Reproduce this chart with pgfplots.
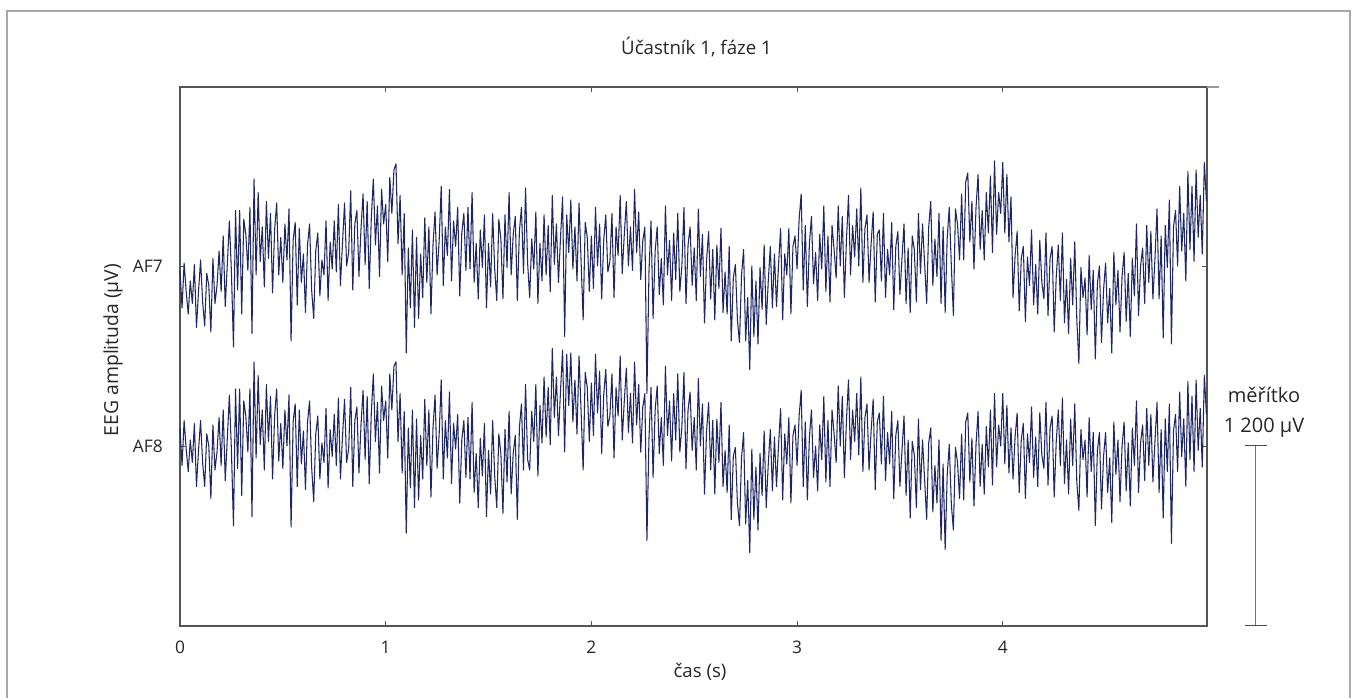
\documentclass[border=0pt]{standalone}
\usepackage{fontspec}
\setmainfont{Open Sans}
\usepackage{pgfplots}
\usepackage{pgfplotstable}
\pgfplotsset{compat=1.18}
\definecolor{trace}{RGB}{30,38,100}
\definecolor{framegray}{RGB}{168,168,168}
\definecolor{spine}{RGB}{85,85,85}

\pgfplotstableread{
t AF7 AF8
0.00 2370 1320
0.01 2120 1070
0.02 2420 1370
0.03 2230 1180
0.04 2080 1030
0.05 2300 1240
0.06 2150 1090
0.07 2410 1350
0.08 1990 930
0.09 2230 1170
0.10 2440 1370
0.11 2160 1090
0.12 2000 930
0.13 2350 1280
0.14 2270 1200
0.15 1960 850
0.16 2450 1340
0.17 2150 1040
0.18 2270 1160
0.19 2500 1390
0.20 2230 1070
0.21 2600 1440
0.22 2130 970
0.23 2410 1250
0.24 2700 1540
0.25 2360 1170
0.26 1860 670
0.27 2770 1580
0.28 2240 1050
0.29 2770 1580
0.30 2080 870
0.31 2710 1500
0.32 2610 1400
0.33 2370 1160
0.34 2790 1580
0.35 1950 730
0.36 2980 1760
0.37 2340 1120
0.38 2890 1670
0.39 2430 1210
0.40 2660 1440
0.41 2260 1040
0.42 2830 1610
0.43 2450 1230
0.44 2750 1530
0.45 2220 980
0.46 2640 1400
0.47 2820 1580
0.48 2340 1100
0.49 2590 1350
0.50 2290 1050
0.51 2680 1440
0.52 2440 1200
0.53 2780 1540
0.54 1900 660
0.55 2570 1360
0.56 2690 1480
0.57 2140 930
0.58 2650 1440
0.59 2290 1080
0.60 2480 1300
0.61 2090 910
0.62 2540 1360
0.63 2680 1500
0.64 2240 1060
0.65 2050 830
0.66 2500 1280
0.67 2620 1400
0.68 2200 980
0.69 2440 1220
0.70 2340 1090
0.71 2700 1450
0.72 2170 920
0.73 2560 1310
0.74 2380 1130
0.75 2700 1410
0.76 2360 1070
0.77 2810 1520
0.78 2270 980
0.79 2550 1260
0.80 2820 1510
0.81 2400 1090
0.82 2490 1180
0.83 2900 1590
0.84 2240 930
0.85 2680 1370
0.86 2770 1460
0.87 2330 1020
0.88 2650 1340
0.89 2880 1570
0.90 2410 1110
0.91 2830 1530
0.92 2250 950
0.93 2720 1420
0.94 2980 1680
0.95 2540 1230
0.96 2800 1490
0.97 2330 1020
0.98 2910 1600
0.99 2680 1370
1.00 2810 1500
1.01 2430 1120
1.02 2990 1680
1.03 2750 1440
1.04 3040 1730
1.05 3080 1760
1.06 2550 1230
1.07 2870 1550
1.08 2340 1020
1.09 2750 1430
1.10 1820 620
1.11 2520 1320
1.12 2120 920
1.13 2640 1440
1.14 1990 790
1.15 2590 1380
1.16 2050 840
1.17 2480 1270
1.18 2190 980
1.19 2720 1510
1.20 2290 1070
1.21 2660 1440
1.22 2080 860
1.23 2540 1320
1.24 2760 1540
1.25 2340 1050
1.26 2570 1280
1.27 2930 1640
1.28 2270 980
1.29 2660 1370
1.30 2470 1120
1.31 2910 1560
1.32 2300 950
1.33 2700 1350
1.34 2530 1180
1.35 2790 1410
1.36 2200 820
1.37 2620 1240
1.38 2750 1370
1.39 2370 990
1.40 2790 1390
1.41 2380 980
1.42 2890 1490
1.43 2290 890
1.44 2550 1150
1.45 2180 790
1.46 2640 1250
1.47 2390 1000
1.48 2740 1350
1.49 2120 730
1.50 2550 1170
1.51 2260 880
1.52 2750 1370
1.53 2380 1000
1.54 2170 790
1.55 2710 1280
1.56 2580 1150
1.57 2180 750
1.58 2740 1310
1.59 2390 960
1.60 2890 1430
1.61 2340 880
1.62 2610 1150
1.63 2730 1270
1.64 2170 710
1.65 2630 1320
1.66 2790 1480
1.67 2350 1040
1.68 2920 1610
1.69 2420 1110
1.70 2190 1040
1.71 2580 1430
1.72 2380 1230
1.73 2760 1610
1.74 2150 1000
1.75 2550 1470
1.76 2300 1220
1.77 2740 1660
1.78 2340 1260
1.79 2670 1590
1.80 2230 1210
1.81 2870 1850
1.82 2410 1390
1.83 2680 1660
1.84 2290 1270
1.85 2590 1570
1.86 2860 1840
1.87 1930 1160
1.88 2740 1810
1.89 2490 1470
1.90 2840 1820
1.91 2380 1360
1.92 2660 1640
1.93 2300 1280
1.94 2820 1800
1.95 2430 1430
1.96 2040 1040
1.97 2690 1690
1.98 2590 1590
1.99 2230 1230
2.00 2600 1620
2.01 2250 1270
2.02 2790 1810
2.03 2400 1420
2.04 2680 1700
2.05 2180 1150
2.06 2570 1540
2.07 2740 1710
2.08 2360 1330
2.09 2430 1400
2.10 2750 1680
2.11 2190 1120
2.12 2660 1590
2.13 2470 1400
2.14 2870 1800
2.15 2350 1240
2.16 2610 1500
2.17 2830 1720
2.18 2400 1290
2.19 2660 1550
2.20 2370 1220
2.21 2910 1760
2.22 2490 1340
2.23 2760 1610
2.24 2310 1160
2.25 2570 1460
2.26 2660 1550
2.27 1550 570
2.28 2360 1250
2.29 2700 1590
2.30 2050 990
2.31 2500 1440
2.32 2660 1600
2.33 2210 1150
2.34 2450 1390
2.35 2140 1070
2.36 2800 1730
2.37 2340 1270
2.38 2570 1500
2.39 2170 1100
2.40 2620 1550
2.41 2310 1240
2.42 2750 1680
2.43 2230 1160
2.44 2400 1330
2.45 2790 1690
2.46 2150 1050
2.47 2540 1440
2.48 2660 1560
2.49 2270 1170
2.50 2520 1390
2.51 2170 1040
2.52 2780 1650
2.53 2330 1200
2.54 2610 1480
2.55 2020 880
2.56 2440 1300
2.57 2630 1490
2.58 2180 1040
2.59 2510 1370
2.60 2040 880
2.61 2540 1380
2.62 2250 1090
2.63 2650 1490
2.64 2090 930
2.65 2360 1170
2.66 2080 890
2.67 2530 1340
2.68 1900 710
2.69 2320 1130
2.70 2410 1190
2.71 2040 820
2.72 1890 670
2.73 2340 1120
2.74 2510 1290
2.75 1900 680
2.76 2190 970
2.77 1710 490
2.78 2400 1180
2.79 1930 710
2.80 2300 1060
2.81 1880 640
2.82 2390 1150
2.83 2110 870
2.84 2540 1300
2.85 2010 790
2.86 2300 1080
2.87 2530 1310
2.88 2120 900
2.89 2480 1260
2.90 2130 930
2.91 2410 1210
2.92 2650 1450
2.93 2040 840
2.94 2480 1280
2.95 2340 1080
2.96 2650 1390
2.97 2080 820
2.98 2530 1270
2.99 2600 1340
3.00 2380 1070
3.01 2710 1400
3.02 2880 1570
3.03 2240 930
3.04 2670 1360
3.05 2130 840
3.06 2550 1260
3.07 2730 1440
3.08 2280 990
3.09 2490 1200
3.10 2170 900
3.11 2610 1340
3.12 2380 1110
3.13 2800 1530
3.14 2230 960
3.15 2600 1370
3.16 2160 930
3.17 2670 1440
3.18 2510 1280
3.19 2320 1090
3.20 2800 1600
3.21 2400 1200
3.22 2730 1530
3.23 2190 990
3.24 2570 1370
3.25 2870 1640
3.26 2340 1110
3.27 2670 1440
3.28 2460 1230
3.29 2780 1550
3.30 2400 1140
3.31 2920 1660
3.32 2290 1030
3.33 2650 1390
3.34 2740 1480
3.35 2290 1040
3.36 2550 1300
3.37 2760 1510
3.38 2160 910
3.39 2610 1360
3.40 2640 1420
3.41 2300 1080
3.42 2750 1530
3.43 2190 970
3.44 2510 1290
3.45 2340 1080
3.46 2690 1430
3.47 2110 850
3.48 2530 1270
3.49 2630 1370
3.50 2210 930
3.51 2450 1170
3.52 2680 1400
3.53 2150 870
3.54 2520 1240
3.55 2090 720
3.56 2600 1230
3.57 2510 1140
3.58 2160 790
3.59 2750 1380
3.60 2350 910
3.61 2680 1240
3.62 2420 980
3.63 2150 710
3.64 2660 1220
3.65 2830 1320
3.66 2270 760
3.67 2580 1070
3.68 2330 820
3.69 2750 1240
3.70 2150 570
3.71 2660 1080
3.72 2090 510
3.73 2590 1010
3.74 2790 1210
3.75 2400 810
3.76 2070 640
3.77 2780 1190
3.78 2680 1090
3.79 2440 850
3.80 2880 1280
3.81 2440 840
3.82 2960 1360
3.83 3020 1420
3.84 2560 960
3.85 2830 1250
3.86 2380 800
3.87 2790 1210
3.88 3010 1430
3.89 2510 930
3.90 2770 1210
3.91 2440 880
3.92 2890 1330
3.93 2620 1060
3.94 3000 1440
3.95 2490 940
3.96 3100 1550
3.97 2610 1060
3.98 2890 1340
3.99 2750 1200
4.00 3090 1550
4.01 2620 1080
4.02 3010 1470
4.03 2560 1020
4.04 2860 1320
4.05 2190 980
4.06 2470 1260
4.07 2630 1420
4.08 2100 890
4.09 2450 1240
4.10 2530 1350
4.11 2030 850
4.12 2460 1280
4.13 2270 1090
4.14 2640 1460
4.15 2140 990
4.16 2410 1260
4.17 2080 930
4.18 2570 1420
4.19 2290 1140
4.20 2180 1050
4.21 2620 1490
4.22 2070 940
4.23 2450 1320
4.24 2530 1400
4.25 1960 860
4.26 2330 1230
4.27 2540 1440
4.28 2170 1070
4.29 2620 1520
4.30 2020 950
4.31 2310 1240
4.32 1950 880
4.33 2450 1380
4.34 2140 1070
4.35 2560 1480
4.36 2040 960
4.37 1750 770
4.38 2390 1310
4.39 2190 1110
4.40 2320 1240
4.41 1940 860
4.42 2470 1390
4.43 2110 1030
4.44 2370 1290
4.45 1780 670
4.46 2280 1170
4.47 2400 1290
4.48 1890 780
4.49 2240 1130
4.50 2420 1290
4.51 2020 890
4.52 2250 1120
4.53 1820 690
4.54 2490 1360
4.55 2140 1010
4.56 2370 1240
4.57 1960 830
4.58 2330 1200
4.59 2490 1360
4.60 2030 900
4.61 2350 1220
4.62 1930 800
4.63 2450 1320
4.64 2200 1070
4.65 2680 1500
4.66 2070 890
4.67 2400 1220
4.68 2520 1340
4.69 2150 970
4.70 2670 1450
4.71 2290 1070
4.72 2630 1410
4.73 2180 960
4.74 2450 1230
4.75 2780 1490
4.76 2180 890
4.77 2600 1310
4.78 1920 720
4.79 2670 1380
4.80 2390 1030
4.81 2840 1480
4.82 1880 550
4.83 2660 1300
4.84 2770 1410
4.85 2400 1030
4.86 2930 1560
4.87 2500 1130
4.88 2750 1380
4.89 2300 930
4.90 3030 1630
4.91 2510 1110
4.92 2930 1530
4.93 2430 1030
4.94 3040 1640
4.95 2590 1170
4.96 2870 1450
4.97 2480 1060
4.98 3090 1670
4.99 2830 1410
}\eeg

\begin{document}
\begin{tikzpicture}
\useasboundingbox (0pt,0pt) rectangle (1014pt,523.5pt);
\draw[framegray, line width=1.5pt] (5.25pt,0pt) -- (5.25pt,515.25pt) -- (1012.5pt,515.25pt) -- (1012.5pt,0pt);
\begin{axis}[
  at={(135pt,54pt)}, anchor=south west,
  scale only axis, width=770.25pt, height=404.25pt,
  xmin=0, xmax=4.993, ymin=0, ymax=3593,
  clip=false,
  axis line style={draw=spine, line width=0.8pt},
  xtick={0,1,2,3,4},
  ytick={1200,2400}, yticklabels={AF8,AF7},
  tick align=inside, major tick length=3.5pt,
  tick style={draw=spine, line width=0.6pt},
  /pgf/number format/assume math mode=true,
  ticklabel style={font=\fontsize{13}{15}\selectfont, text=black!85},
  xticklabel style={anchor=base, yshift=-21pt},
  yticklabel style={anchor=east, inner sep=0pt, xshift=-12.75pt},
]
\addplot[trace, line width=0.8pt, line join=round] table[x=t,y=AF7]{\eeg};
\addplot[trace, line width=0.8pt, line join=round] table[x=t,y=AF8]{\eeg};
\draw[black!55, line width=0.75pt] (axis cs:5.231,0) -- (axis cs:5.231,1200);
\draw[black!70, line width=0.75pt] (axis cs:5.178,0) -- (axis cs:5.284,0);
\draw[black!70, line width=0.75pt] (axis cs:5.178,1200) -- (axis cs:5.284,1200);
\draw[black!40, line width=0.8pt] (axis cs:4.993,3593) -- (axis cs:5.052,3593);
\node[anchor=base, font=\fontsize{15}{18}\selectfont, text=black!85] at (axis cs:5.27,1293) {1 200 µV};
\node[anchor=base, font=\fontsize{15}{18}\selectfont, text=black!85] at (axis cs:5.27,1487) {měřítko};
\end{axis}
\node[anchor=base, font=\fontsize{14}{17}\selectfont, text=black!85] at (522.4pt,482.25pt) {Účastník 1, fáze 1};
\node[anchor=base, font=\fontsize{14}{17}\selectfont, text=black!85] at (525pt,15pt) {čas (s)};
\node[anchor=base, rotate=90, font=\fontsize{14.5}{17}\selectfont, text=black!85] at (88.5pt,261pt) {EEG amplituda (µV)};
\end{tikzpicture}
\end{document}
